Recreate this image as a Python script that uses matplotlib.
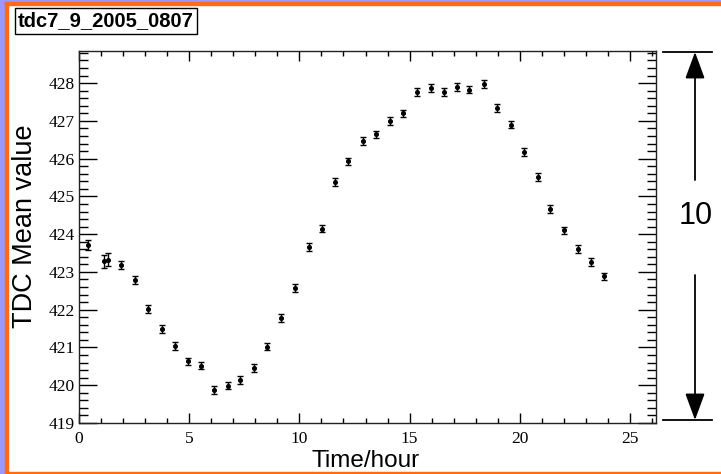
import matplotlib.pyplot as plt
from matplotlib.patches import Rectangle
from matplotlib.ticker import MultipleLocator

# TDC mean value vs time of day
time_hour = [
    0.40, 1.13, 1.30, 1.92, 2.53, 3.13, 3.75, 4.36, 4.93, 5.54,
    6.14, 6.78, 7.32, 7.94, 8.54, 9.15, 9.81, 10.42, 11.01, 11.63,
    12.22, 12.87, 13.49, 14.09, 14.70, 15.35, 15.96, 16.58, 17.17, 17.71,
    18.36, 18.98, 19.59, 20.20, 20.81, 21.37, 21.99, 22.64, 23.22, 23.81,
]
tdc_mean = [
    423.72, 423.28, 423.32, 423.19, 422.79, 422.02, 421.49, 421.04, 420.63, 420.52,
    419.87, 419.99, 420.14, 420.45, 421.02, 421.78, 422.57, 423.66, 424.15, 425.38,
    425.93, 426.46, 426.64, 426.99, 427.20, 427.76, 427.87, 427.76, 427.90, 427.83,
    427.97, 427.34, 426.90, 426.18, 425.51, 424.67, 424.10, 423.61, 423.26, 422.88,
]
tdc_err = [
    0.13, 0.17, 0.17, 0.11, 0.10, 0.10, 0.10, 0.10, 0.10, 0.10,
    0.10, 0.10, 0.10, 0.10, 0.10, 0.10, 0.10, 0.10, 0.10, 0.10,
    0.10, 0.10, 0.10, 0.10, 0.10, 0.10, 0.10, 0.10, 0.10, 0.10,
    0.10, 0.10, 0.10, 0.10, 0.10, 0.10, 0.10, 0.10, 0.10, 0.10,
]

W, H = 721, 474
fig = plt.figure(figsize=(W / 100, H / 100), dpi=100)
fig.patch.set_facecolor("white")


def fx(px):
    return px / W


def fy(py):
    return 1 - py / H


# slide frame: blue strip with an orange line inside
blue, orange = "#9999ff", "#ff6a13"
fig.patches.append(Rectangle((0, 0), fx(5), 1, transform=fig.transFigure, color=blue))
fig.patches.append(Rectangle((0, fy(2)), 1, 2 / H, transform=fig.transFigure, color=blue))
fig.patches.append(Rectangle((fx(5), 0), 2.5 / W, fy(2), transform=fig.transFigure, color=orange))
fig.patches.append(Rectangle((fx(5), fy(4.5)), 1, 2.5 / H, transform=fig.transFigure, color=orange))
fig.patches.append(Rectangle((fx(5), 0), 1, 2.5 / H, transform=fig.transFigure, color=orange))

ax = fig.add_axes([fx(79), fy(423), fx(656) - fx(79), fy(51) - fy(423)])
ax.errorbar(time_hour, tdc_mean, yerr=tdc_err, fmt="o", color="black",
            ms=2.6, elinewidth=1, capsize=2.5, capthick=1)

ax.set_xlim(0, 26.18)
ax.set_ylim(419, 428.85)
ax.xaxis.set_major_locator(MultipleLocator(5))
ax.xaxis.set_minor_locator(MultipleLocator(1))
ax.yaxis.set_major_locator(MultipleLocator(1))
ax.yaxis.set_minor_locator(MultipleLocator(0.2))
ax.tick_params(which="both", direction="in", top=True, right=True, width=1, color="black")
ax.tick_params(axis="x", which="major", length=7.5, pad=6)
ax.tick_params(axis="x", which="minor", length=3.6)
ax.tick_params(axis="y", which="major", length=13, pad=3)
ax.tick_params(axis="y", which="minor", length=6.5)
for lab in ax.get_xticklabels() + ax.get_yticklabels():
    lab.set_fontfamily("Liberation Serif")
    lab.set_fontsize(12.5)
for s in ax.spines.values():
    s.set_linewidth(1)
    s.set_color("#222222")

fig.text(fx(25.5), fy(226), "TDC Mean value", rotation=90, ha="center", va="center",
         family="Liberation Sans", fontsize=19.5)
fig.text(fx(366), fy(461), "Time/hour", ha="center", va="center",
         family="Liberation Sans", fontsize=17.5)
fig.text(fx(18), fy(21), "tdc7_9_2005_0807", ha="left", va="center",
         family="Liberation Sans", weight="bold", fontsize=14.5,
         bbox=dict(facecolor="white", edgecolor="black", boxstyle="square,pad=0.15", lw=1))

# range marker on the right
for yl in (52, 420):
    fig.add_artist(plt.Line2D([fx(663), fx(712)], [fy(yl), fy(yl)],
                              transform=fig.transFigure, color="black", lw=1.3))
arrow = dict(arrowstyle="-|>,head_length=1.5,head_width=0.55", color="black",
             lw=1.3, mutation_scale=11, shrinkA=0, shrinkB=0)
ax.annotate("", xy=(fx(695), fy(52)), xytext=(fx(695), fy(180)),
            xycoords="figure fraction", textcoords="figure fraction", arrowprops=arrow)
ax.annotate("", xy=(fx(695), fy(420)), xytext=(fx(695), fy(275)),
            xycoords="figure fraction", textcoords="figure fraction", arrowprops=arrow)
fig.text(fx(696), fy(216), "10", ha="center", va="center",
         family="Liberation Sans", fontsize=22)

fig.savefig("out.png", dpi=100)
